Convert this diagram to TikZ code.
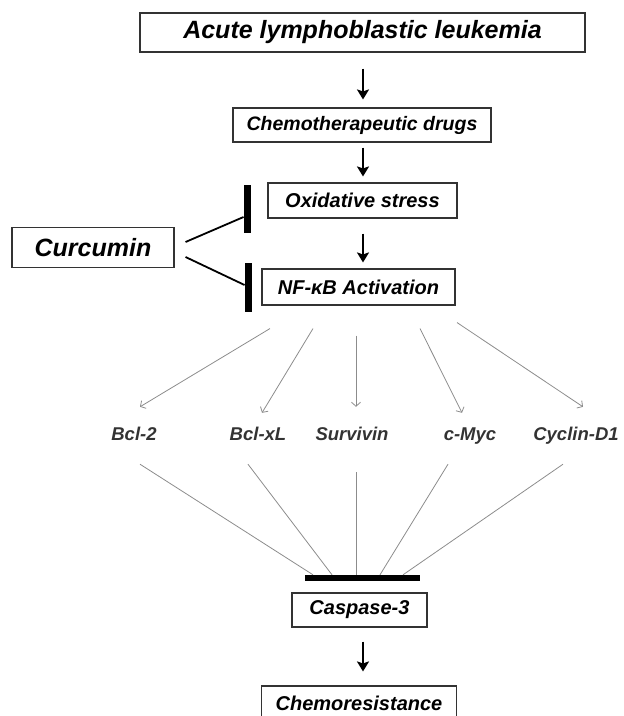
\documentclass[tikz,border=0pt]{standalone}
\usepackage{fontspec}
\setmainfont{Liberation Sans}
\usetikzlibrary{arrows.meta}

\begin{document}
\begin{tikzpicture}[x=1pt, y=-1pt,
        box/.style={draw=black!80, line width=1.1pt, inner sep=0pt, font=\bfseries\itshape},
        gene/.style={anchor=base, inner sep=0pt, text height=13pt, text depth=4pt, text=black!80,
                     font=\fontsize{18.5}{20}\selectfont\bfseries\itshape},
        down/.style={line width=2.2pt, -{Stealth[length=10pt,width=12pt,inset=2pt]}},
        fan/.style={draw=black!45, line width=0.8pt, -{Straight Barb[length=4pt,width=9pt]}},
        funnel/.style={draw=black!45, line width=0.8pt},
        blocker/.style={fill=black, inner sep=0pt, minimum width=7.5pt}]
    \useasboundingbox (0,0) rectangle (624,716);

    % main chain
    \node[box, minimum width=445pt, minimum height=39pt, font=\fontsize{25}{30}\selectfont\bfseries\itshape]
        (all) at (362.5,32.5) {Acute lymphoblastic leukemia};
    \node[box, minimum width=258pt, minimum height=34pt, font=\fontsize{19.5}{24}\selectfont\bfseries\itshape]
        (chemo) at (362,125) {Chemotherapeutic drugs};
    \node[box, minimum width=189pt, minimum height=35pt, font=\fontsize{20}{24}\selectfont\bfseries\itshape]
        (oxi) at (362.5,200.5) {Oxidative stress};
    \node[box, minimum width=193pt, minimum height=36pt, font=\fontsize{20}{24}\selectfont\bfseries\itshape]
        (nfkb) at (358.5,287) {NF-κB Activation};
    \node[box, minimum width=162pt, minimum height=40pt, font=\fontsize{25}{30}\selectfont\bfseries\itshape]
        (curcumin) at (93,247.5) {Curcumin};
    \node[box, minimum width=135pt, minimum height=34pt, font=\fontsize{20}{24}\selectfont\bfseries\itshape]
        (caspase) at (359.5,610) {Caspase-3};
    \node[box, minimum width=195pt, minimum height=35pt, font=\fontsize{20}{24}\selectfont\bfseries\itshape]
        (resist) at (359,703.5) {Chemoresistance};

    \draw[down, shorten <=16pt, shorten >=8pt] ([xshift=0.5pt]all.south) -- ([xshift=1pt]chemo.north);
    \draw[down, shorten <=5pt, shorten >=6pt] ([xshift=1pt]chemo.south) -- ([xshift=0.5pt]oxi.north);
    \draw[down, shorten <=15pt, shorten >=6pt] ([xshift=0.5pt]oxi.south) -- ([xshift=4.5pt]nfkb.north);
    \draw[down, shorten <=14pt, shorten >=14pt] ([xshift=3.5pt]caspase.south) -- ([xshift=4pt]resist.north);

    % curcumin blocks
    \node[blocker, minimum height=48pt] (stop1) at (247.5,209) {};
    \node[blocker, minimum height=49pt] (stop2) at (248.5,287.5) {};
    \draw[line width=1.8pt] ([xshift=11pt,yshift=5.5pt]curcumin.east) -- ([yshift=-8pt]stop1.west);
    \draw[line width=1.8pt] ([xshift=11pt,yshift=-9.5pt]curcumin.east) -- ([yshift=2.5pt]stop2.west);

    % target genes
    \node[gene] (bcl2)     at (134,440) {Bcl-2};
    \node[gene] (bclxl)    at (258,440) {Bcl-xL};
    \node[gene] (survivin) at (352,440) {Survivin};
    \node[gene] (cmyc)     at (470,440) {c-Myc};
    \node[gene] (cyclin)   at (576,440) {Cyclin-D1};

    \draw[fan] ([xshift=-88.5pt,yshift=-23pt]nfkb.south) -- ([xshift=6pt,yshift=20pt]bcl2.north);
    \draw[fan] ([xshift=-45.5pt,yshift=-23pt]nfkb.south) -- ([xshift=4pt,yshift=14pt]bclxl.north);
    \draw[fan] ([xshift=-2.5pt,yshift=-30pt]nfkb.south)  -- ([xshift=4pt,yshift=20pt]survivin.north);
    \draw[fan] ([xshift=61.5pt,yshift=-23pt]nfkb.south)  -- ([xshift=-8pt,yshift=14pt]cmyc.north);
    \draw[fan] ([xshift=98.5pt,yshift=-17pt]nfkb.south)  -- ([xshift=7pt,yshift=20pt]cyclin.north);

    % block of caspase-3
    \node[fill=black, inner sep=0pt, minimum width=115pt, minimum height=6pt] (blockbar) at (362.5,578) {};
    \draw[funnel] ([xshift=6pt,yshift=-20pt]bcl2.south)      -- ([xshift=-49.5pt]blockbar.north);
    \draw[funnel] ([xshift=-10pt,yshift=-20pt]bclxl.south)   -- ([xshift=-30.5pt]blockbar.north);
    \draw[funnel] ([xshift=4pt,yshift=-28pt]survivin.south)  -- ([xshift=-6.5pt]blockbar.north);
    \draw[funnel] ([xshift=-22pt,yshift=-20pt]cmyc.south)    -- ([xshift=17.5pt]blockbar.north);
    \draw[funnel] ([xshift=-13pt,yshift=-20pt]cyclin.south)  -- ([xshift=40.5pt]blockbar.north);
\end{tikzpicture}
\end{document}
